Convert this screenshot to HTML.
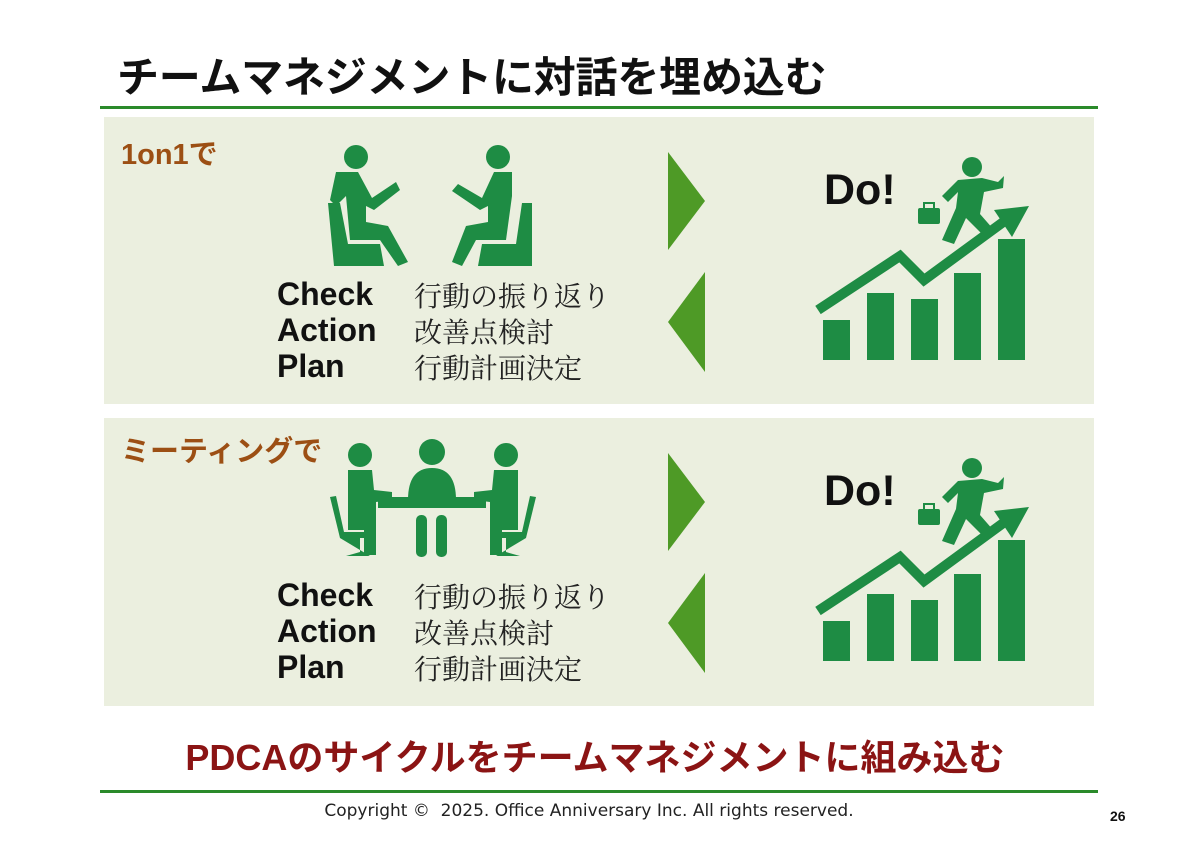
<!DOCTYPE html>
<html><head><meta charset="utf-8"><style>
body{margin:0;width:1200px;height:849px;background:#fff;position:relative;overflow:hidden;font-family:"Liberation Sans","Noto Sans CJK JP",sans-serif}
.a{position:absolute;white-space:nowrap}
.title{left:117px;top:44px;font-size:42px;font-weight:bold;color:#111;letter-spacing:-0.2px}
.hl{position:absolute;left:100px;width:998px;height:3px;background:#2a8a2a}
.panel{position:absolute;left:104px;width:990px;background:#ebefdf}
.lab{font-size:29px;font-weight:bold;color:#9c4f14}
.en{font-size:32px;font-weight:bold;color:#111;line-height:36px}
.jp{font-family:"Liberation Serif","Noto Serif CJK SC",serif;font-size:28px;color:#222;line-height:36px}
.do{font-size:43px;font-weight:bold;color:#111}
</style></head><body>
<div class="a title">チームマネジメントに対話を埋め込む</div>
<div class="hl" style="top:106px"></div>
<div class="panel" style="top:117px;height:287px"></div>
<div class="panel" style="top:418px;height:288px"></div>

<svg width="1200" height="849" style="position:absolute;left:0;top:0">
<defs>
<g id="chart" fill="#1e8c44">
<rect x="823" y="320" width="27" height="40"/>
<rect x="867" y="293" width="27" height="67"/>
<rect x="911" y="299" width="27" height="61"/>
<rect x="954" y="273" width="27" height="87"/>
<rect x="998" y="239" width="27" height="121"/>
<polyline points="818,310 900,256 924,280 1006,220" fill="none" stroke="#1e8c44" stroke-width="10"/>
<polygon points="1029,206 994,210 1012,237"/>
<circle cx="972" cy="167" r="10"/>
<path d="M958,180 L982,178 L998,182 L1004,176 L1003,188 L984,192 L980,214 L994,230 L986,238 L966,218 L954,244 L942,240 L956,208 L958,192 L948,202 L942,196 Z"/>
<rect x="918" y="208" width="22" height="16" rx="2"/>
<rect x="924" y="203" width="10" height="6" fill="none" stroke="#1e8c44" stroke-width="2"/>
</g>
<g id="tri">
<polygon points="668,152 705,201 668,250" fill="#4e9a26"/>
<polygon points="705,272 668,322 705,372" fill="#4e9a26"/>
</g>
</defs>
<use href="#chart"/>
<use href="#chart" y="301"/>
<use href="#tri"/>
<use href="#tri" y="301"/>

<g fill="#1e8c44">
<circle cx="356" cy="157" r="12"/>
<path d="M336,172 L358,172 L372,198 L396,182 L400,190 L374,210 L366,206 L366,222 L388,226 L408,262 L398,266 L380,240 L350,240 L346,196 L336,206 L330,200 Z"/>
<path d="M328,203 L340,203 L348,244 L380,244 L384,266 L334,266 Z"/>
<circle cx="498" cy="157" r="12"/>
<path d="M516,172 L494,172 L482,198 L458,184 L452,191 L480,210 L488,206 L488,222 L466,226 L452,262 L462,266 L476,240 L506,240 L512,196 L512,172 Z"/>
<path d="M522,203 L532,203 L532,266 L478,266 L482,244 L516,244 Z"/>
</g>
<g fill="#1e8c44">
<circle cx="360" cy="455" r="12"/>
<path d="M348,470 L372,470 L374,490 L392,492 L392,500 L376,502 L376,555 L364,555 L364,530 L348,530 Z"/>
<circle cx="432" cy="452" r="13"/>
<path d="M408,500 Q408,468 432,468 Q456,468 456,500 Z"/>
<rect x="378" y="497" width="108" height="11"/>
<rect x="416" y="515" width="11" height="42" rx="5"/>
<rect x="436" y="515" width="11" height="42" rx="5"/>
<circle cx="506" cy="455" r="12"/>
<path d="M494,470 L518,470 L518,530 L502,530 L502,555 L490,555 L490,502 L474,500 L474,492 L492,490 Z"/>
<path d="M330,497 L336,496 L344,532 L368,532 L368,538 L360,538 L360,552 L346,556 L370,556 L340,538 Z"/>
<path d="M536,497 L530,496 L522,532 L498,532 L498,538 L506,538 L506,552 L520,556 L496,556 L526,538 Z"/>
</g>
</svg>

<div class="a lab" style="left:121px;top:131px">1on1で</div>
<div class="a lab" style="left:121px;top:428px">ミーティングで</div>
<div class="a do" style="left:824px;top:166px">Do!</div>
<div class="a do" style="left:824px;top:467px">Do!</div>

<div class="a en" style="left:277px;top:276px">Check<br>Action<br>Plan</div>
<div class="a jp" style="left:414px;top:280px">行動の振り返り<br>改善点検討<br>行動計画決定</div>
<div class="a en" style="left:277px;top:577px">Check<br>Action<br>Plan</div>
<div class="a jp" style="left:414px;top:581px">行動の振り返り<br>改善点検討<br>行動計画決定</div>

<div class="a" style="left:0;width:1190px;text-align:center;top:729px;font-size:36px;font-weight:bold;color:#8b1414">PDCAのサイクルをチームマネジメントに組み込む</div>
<div class="hl" style="top:790px"></div>
<div class="a" style="left:0;width:1178px;text-align:center;top:801px;font-size:17px;color:#222;font-family:'DejaVu Sans',sans-serif">Copyright ©&nbsp; 2025. Office Anniversary Inc. All rights reserved.</div>
<div class="a" style="left:1110px;top:808px;font-size:14px;font-weight:bold;color:#111">26</div>
</body></html>
